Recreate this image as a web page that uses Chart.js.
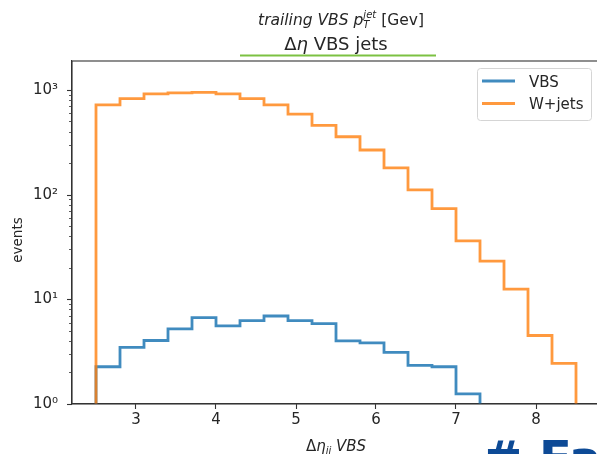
<!DOCTYPE html>
<html>
<head>
<meta charset="utf-8">
<script src="https://cdn.jsdelivr.net/npm/chart.js@4.4.1/dist/chart.umd.min.js"></script>
<style>
  html, body { margin: 0; padding: 0; background: #fff; overflow: hidden; width: 597px; height: 454px; }
  #wrap { position: absolute; left: 0; top: 0; }
  #logo { position: absolute; left: 482px; top: 434px; font: bold 48px "DejaVu Sans"; line-height: 48px; color: #0d4a96; white-space: pre; }
</style>
</head>
<body>
<div id="wrap"><canvas id="chart" width="620" height="454"></canvas></div>
<div id="logo"># Fa</div>
<script>
// histogram bin edges (delta eta jj)
const binEdges = [2.5, 2.8, 3.1, 3.4, 3.7, 4.0, 4.3, 4.6, 4.9, 5.2, 5.5, 5.8, 6.1, 6.4, 6.7, 7.0, 7.3, 7.6, 7.9, 8.2, 8.5];

// events per bin
const vbsCounts = [2.27, 3.47, 4.04, 5.21, 6.69, 5.57, 6.26, 6.93, 6.26, 5.85, 4.01, 3.84, 3.11, 2.34, 2.27, 1.25, 0, 0, 0, 0];
const wjetsCounts = [720, 826, 916, 936, 946, 916, 826, 720, 587, 459, 357, 267, 180, 111, 73.6, 36.2, 23.2, 12.5, 4.51, 2.44];

const seriesLabels = ["VBS", "W+jets"];
const xTickValues = [3, 4, 5, 6, 7, 8];

const FLOOR = 0.1; // below the log axis, gets clipped
const sup = { 0: "\u2070", 1: "\u00b9", 2: "\u00b2", 3: "\u00b3" };

// outline of a step histogram
function stepPoints(counts) {
    const pts = [{ x: binEdges[0], y: FLOOR }];
    counts.forEach((c, i) => pts.push({ x: binEdges[i], y: c > 0 ? c : FLOOR }));
    pts.push({ x: binEdges[binEdges.length - 1], y: FLOOR });
    return pts;
}

function mantissa(v) {
    const e = Math.floor(Math.log10(v) + 1e-9);
    return { m: v / Math.pow(10, e), e: e };
}

const FONT = "DejaVu Sans";
const BLUE = "rgba(31,119,180,0.85)";
const ORANGE = "rgba(255,127,14,0.8)";

// titles, labels, frame, y ticks and legend
const decor = {
    id: "decor",
    afterDraw(chart) {
        const ctx = chart.ctx;
        const a = chart.chartArea;
        ctx.save();

        // frame
        ctx.strokeStyle = "#333";
        ctx.lineWidth = 1.1;
        ctx.strokeRect(a.left, a.top, a.right - a.left, a.bottom - a.top);

        // y ticks (major/minor)
        const ys = chart.scales.y;
        ys.ticks.forEach(t => {
            const py = Math.round(ys.getPixelForValue(t.value)) + 0.5;
            const major = Math.abs(mantissa(t.value).m - 1) < 1e-6;
            ctx.lineWidth = major ? 1.1 : 0.8;
            ctx.beginPath();
            ctx.moveTo(a.left, py);
            ctx.lineTo(a.left - (major ? 5 : 3), py);
            ctx.stroke();
        });

        ctx.fillStyle = "#262626";
        ctx.textBaseline = "alphabetic";

        // top title with sub/superscript
        const parts1 = [
            { t: "trailing VBS p", f: "italic 15.5px " + FONT, dy: 0 },
            { t: "T", f: "italic 10px " + FONT, dy: 3, keep: true },
            { t: "jet", f: "italic 10px " + FONT, dy: -7 },
            { t: " [Gev]", f: "15.5px " + FONT, dy: 0 }
        ];
        drawParts(ctx, parts1, 341, 25);

        // axes title
        const parts2 = [
            { t: "\u0394", f: "18px " + FONT, dy: 0 },
            { t: "\u03b7", f: "italic 18px " + FONT, dy: 0 },
            { t: " VBS jets", f: "18px " + FONT, dy: 0 }
        ];
        drawParts(ctx, parts2, (a.left + a.right) / 2, 50);

        ctx.strokeStyle = "#7cc142";
        ctx.lineWidth = 2.2;
        ctx.beginPath();
        ctx.moveTo(240, 55.5);
        ctx.lineTo(436, 55.5);
        ctx.stroke();

        // x label
        const parts3 = [
            { t: "\u0394", f: "15px " + FONT, dy: 0 },
            { t: "\u03b7", f: "italic 15px " + FONT, dy: 0 },
            { t: "jj", f: "italic 10px " + FONT, dy: 3 },
            { t: " VBS", f: "italic 15px " + FONT, dy: 0 }
        ];
        drawParts(ctx, parts3, (a.left + a.right) / 2, 451);

        // y label
        ctx.save();
        ctx.translate(21.5, 240);
        ctx.rotate(-Math.PI / 2);
        ctx.font = "13.5px " + FONT;
        ctx.textAlign = "center";
        ctx.fillText("events", 0, 0);
        ctx.restore();

        // legend
        const bx = 477.5, by = 68.5, bw = 114, bh = 52;
        ctx.fillStyle = "rgba(255,255,255,0.8)";
        ctx.strokeStyle = "#d5d5d5";
        ctx.lineWidth = 1;
        ctx.beginPath();
        ctx.roundRect(bx, by, bw, bh, 3);
        ctx.fill();
        ctx.stroke();
        chart.data.datasets.forEach((ds, i) => {
            const ly = 81 + i * 22.5;
            ctx.strokeStyle = ds.borderColor;
            ctx.lineWidth = 2.8;
            ctx.beginPath();
            ctx.moveTo(482, ly);
            ctx.lineTo(515, ly);
            ctx.stroke();
            ctx.fillStyle = "#262626";
            ctx.font = "15px " + FONT;
            ctx.textAlign = "left";
            ctx.fillText(ds.label, 529, ly + 5.5);
        });

        ctx.restore();
    }
};

function drawParts(ctx, parts, cx, baseline) {
    let w = 0;
    parts.forEach((p, i) => {
        ctx.font = p.f;
        p.w = ctx.measureText(p.t).width;
        // subscript followed by superscript share the same x
        if (!(i > 0 && parts[i - 1].keep)) w += p.w;
        else w += Math.max(0, p.w - parts[i - 1].w);
    });
    let x = cx - w / 2;
    ctx.textAlign = "left";
    parts.forEach(p => {
        ctx.font = p.f;
        ctx.fillText(p.t, x, baseline + p.dy);
        if (!p.keep) x += p.w;
    });
}

new Chart(document.getElementById("chart"), {
    type: "line",
    data: {
        datasets: [
            {
                label: seriesLabels[0],
                data: stepPoints(vbsCounts),
                borderColor: BLUE,
                borderWidth: 2.8,
                stepped: "before",
                pointRadius: 0,
                fill: false,
                order: 1
            },
            {
                label: seriesLabels[1],
                data: stepPoints(wjetsCounts),
                borderColor: ORANGE,
                borderWidth: 2.8,
                stepped: "before",
                pointRadius: 0,
                fill: false,
                order: 0
            }
        ]
    },
    options: {
        responsive: false,
        animation: false,
        layout: { padding: { left: 0, top: 61, right: 20, bottom: 0 } },
        plugins: {
            legend: { display: false },
            title: { display: false },
            tooltip: { enabled: false }
        },
        scales: {
            x: {
                type: "linear",
                min: 2.2,
                max: 8.8,
                afterBuildTicks: s => { s.ticks = xTickValues.map(v => ({ value: v })); },
                afterFit: s => { s.height = 50; },
                ticks: {
                    font: { family: FONT, size: 15 },
                    color: "#262626",
                    padding: 2,
                    maxRotation: 0,
                    autoSkip: false
                },
                grid: { drawOnChartArea: false, drawTicks: true, tickLength: 5, tickColor: "#333", tickWidth: 1.1 },
                border: { display: true, color: "#333", width: 1.1 }
            },
            y: {
                type: "logarithmic",
                min: 1,
                max: 1890,
                afterBuildTicks: s => {
                    s.ticks = s.ticks.filter(t => {
                        const m = mantissa(t.value).m;
                        return Math.abs(m - Math.round(m)) < 1e-6;
                    });
                },
                afterFit: s => { s.width = 72; },
                ticks: {
                    autoSkip: false,
                    font: { family: FONT, size: 15 },
                    color: "#262626",
                    padding: 14,
                    callback: v => {
                        const mm = mantissa(v);
                        return Math.abs(mm.m - 1) < 1e-6 ? "10" + sup[mm.e] : "";
                    }
                },
                grid: { drawOnChartArea: false, drawTicks: false },
                border: { display: true, color: "#333", width: 1.1 }
            }
        }
    },
    plugins: [decor]
});
</script>
</body>
</html>
